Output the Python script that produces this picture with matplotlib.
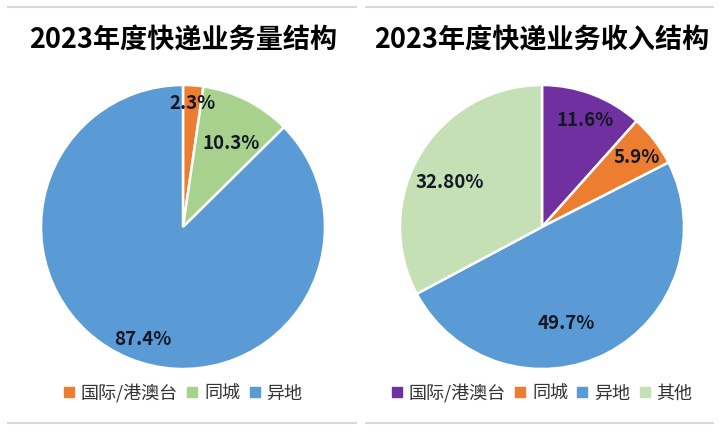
import matplotlib
matplotlib.use('Agg')
import matplotlib.pyplot as plt
from matplotlib.lines import Line2D
import numpy as np

plt.rcParams['font.family'] = ['Noto Sans CJK SC', 'DejaVu Sans']

# data
title_volume = '2023年度快递业务量结构'
cats_volume = ['国际/港澳台', '同城', '异地']
vals_volume = [2.3, 10.3, 87.4]
labels_volume = ['2.3%', '10.3%', '87.4%']

title_income = '2023年度快递业务收入结构'
cats_income = ['国际/港澳台', '同城', '异地', '其他']
vals_income = [11.6, 5.9, 49.7, 32.8]
labels_income = ['11.6%', '5.9%', '49.7%', '32.80%']

colors_volume = ['#ED7D31', '#A9D18E', '#5B9BD5']
colors_income = ['#7030A0', '#ED7D31', '#5B9BD5', '#C5E0B4']

W, H = 720, 432
fig = plt.figure(figsize=(7.2, 4.32), dpi=100)


def draw_pie(cx, cy, r, vals, colors, labels, label_pos, title, cats, ncol):
    ax = fig.add_axes([(cx - r) / W, (H - cy - r) / H, 2 * r / W, 2 * r / H])
    wedges, _ = ax.pie(vals, colors=colors, startangle=90, counterclock=False,
                       radius=1, wedgeprops=dict(edgecolor='white', linewidth=1.8))
    ax.set_xlim(-1, 1)
    ax.set_ylim(-1, 1)
    ax.set_aspect('equal')
    ax.axis('off')
    # label placement (distance from centre, angle in degrees)
    for w, lab, (dist, ang) in zip(wedges, labels, label_pos):
        a = np.deg2rad(ang)
        ax.text(dist * np.cos(a), dist * np.sin(a), lab, ha='center', va='center',
                fontsize=13.5, fontweight='bold', color='#141824')
    fig.text(cx / W, 1 - 40 / H, title, ha='center', va='center',
             fontsize=19.5, fontweight='bold', color='black')
    handles = [Line2D([], [], marker='s', linestyle='', markersize=6.5,
                      markerfacecolor=c, markeredgecolor=c) for c in colors]
    fig.legend(handles, cats, loc='center', bbox_to_anchor=(cx / W, 1 - 393 / H),
               ncol=ncol, frameon=False, fontsize=13, handlelength=0.6,
               handletextpad=0.35, columnspacing=0.5, labelcolor='#333333')


draw_pie(183, 227, 142, vals_volume, colors_volume, labels_volume,
         [(0.875, 85.8), (0.675, 60), (0.84, -109.7)], title_volume, cats_volume, 3)
draw_pie(542, 227, 142, vals_income, colors_income, labels_income,
         [(0.81, 68), (0.83, 36.4), (0.70, -76), (0.72, 154.4)], title_income, cats_income, 4)

# panel separator lines
for x0, x1 in [(8, 356), (366, 713)]:
    for y in (7, 423):
        fig.add_artist(Line2D([x0 / W, x1 / W], [1 - y / H, 1 - y / H],
                              color='#D9D9D9', linewidth=1.5))

fig.savefig('out.png', dpi=100, facecolor='white')
